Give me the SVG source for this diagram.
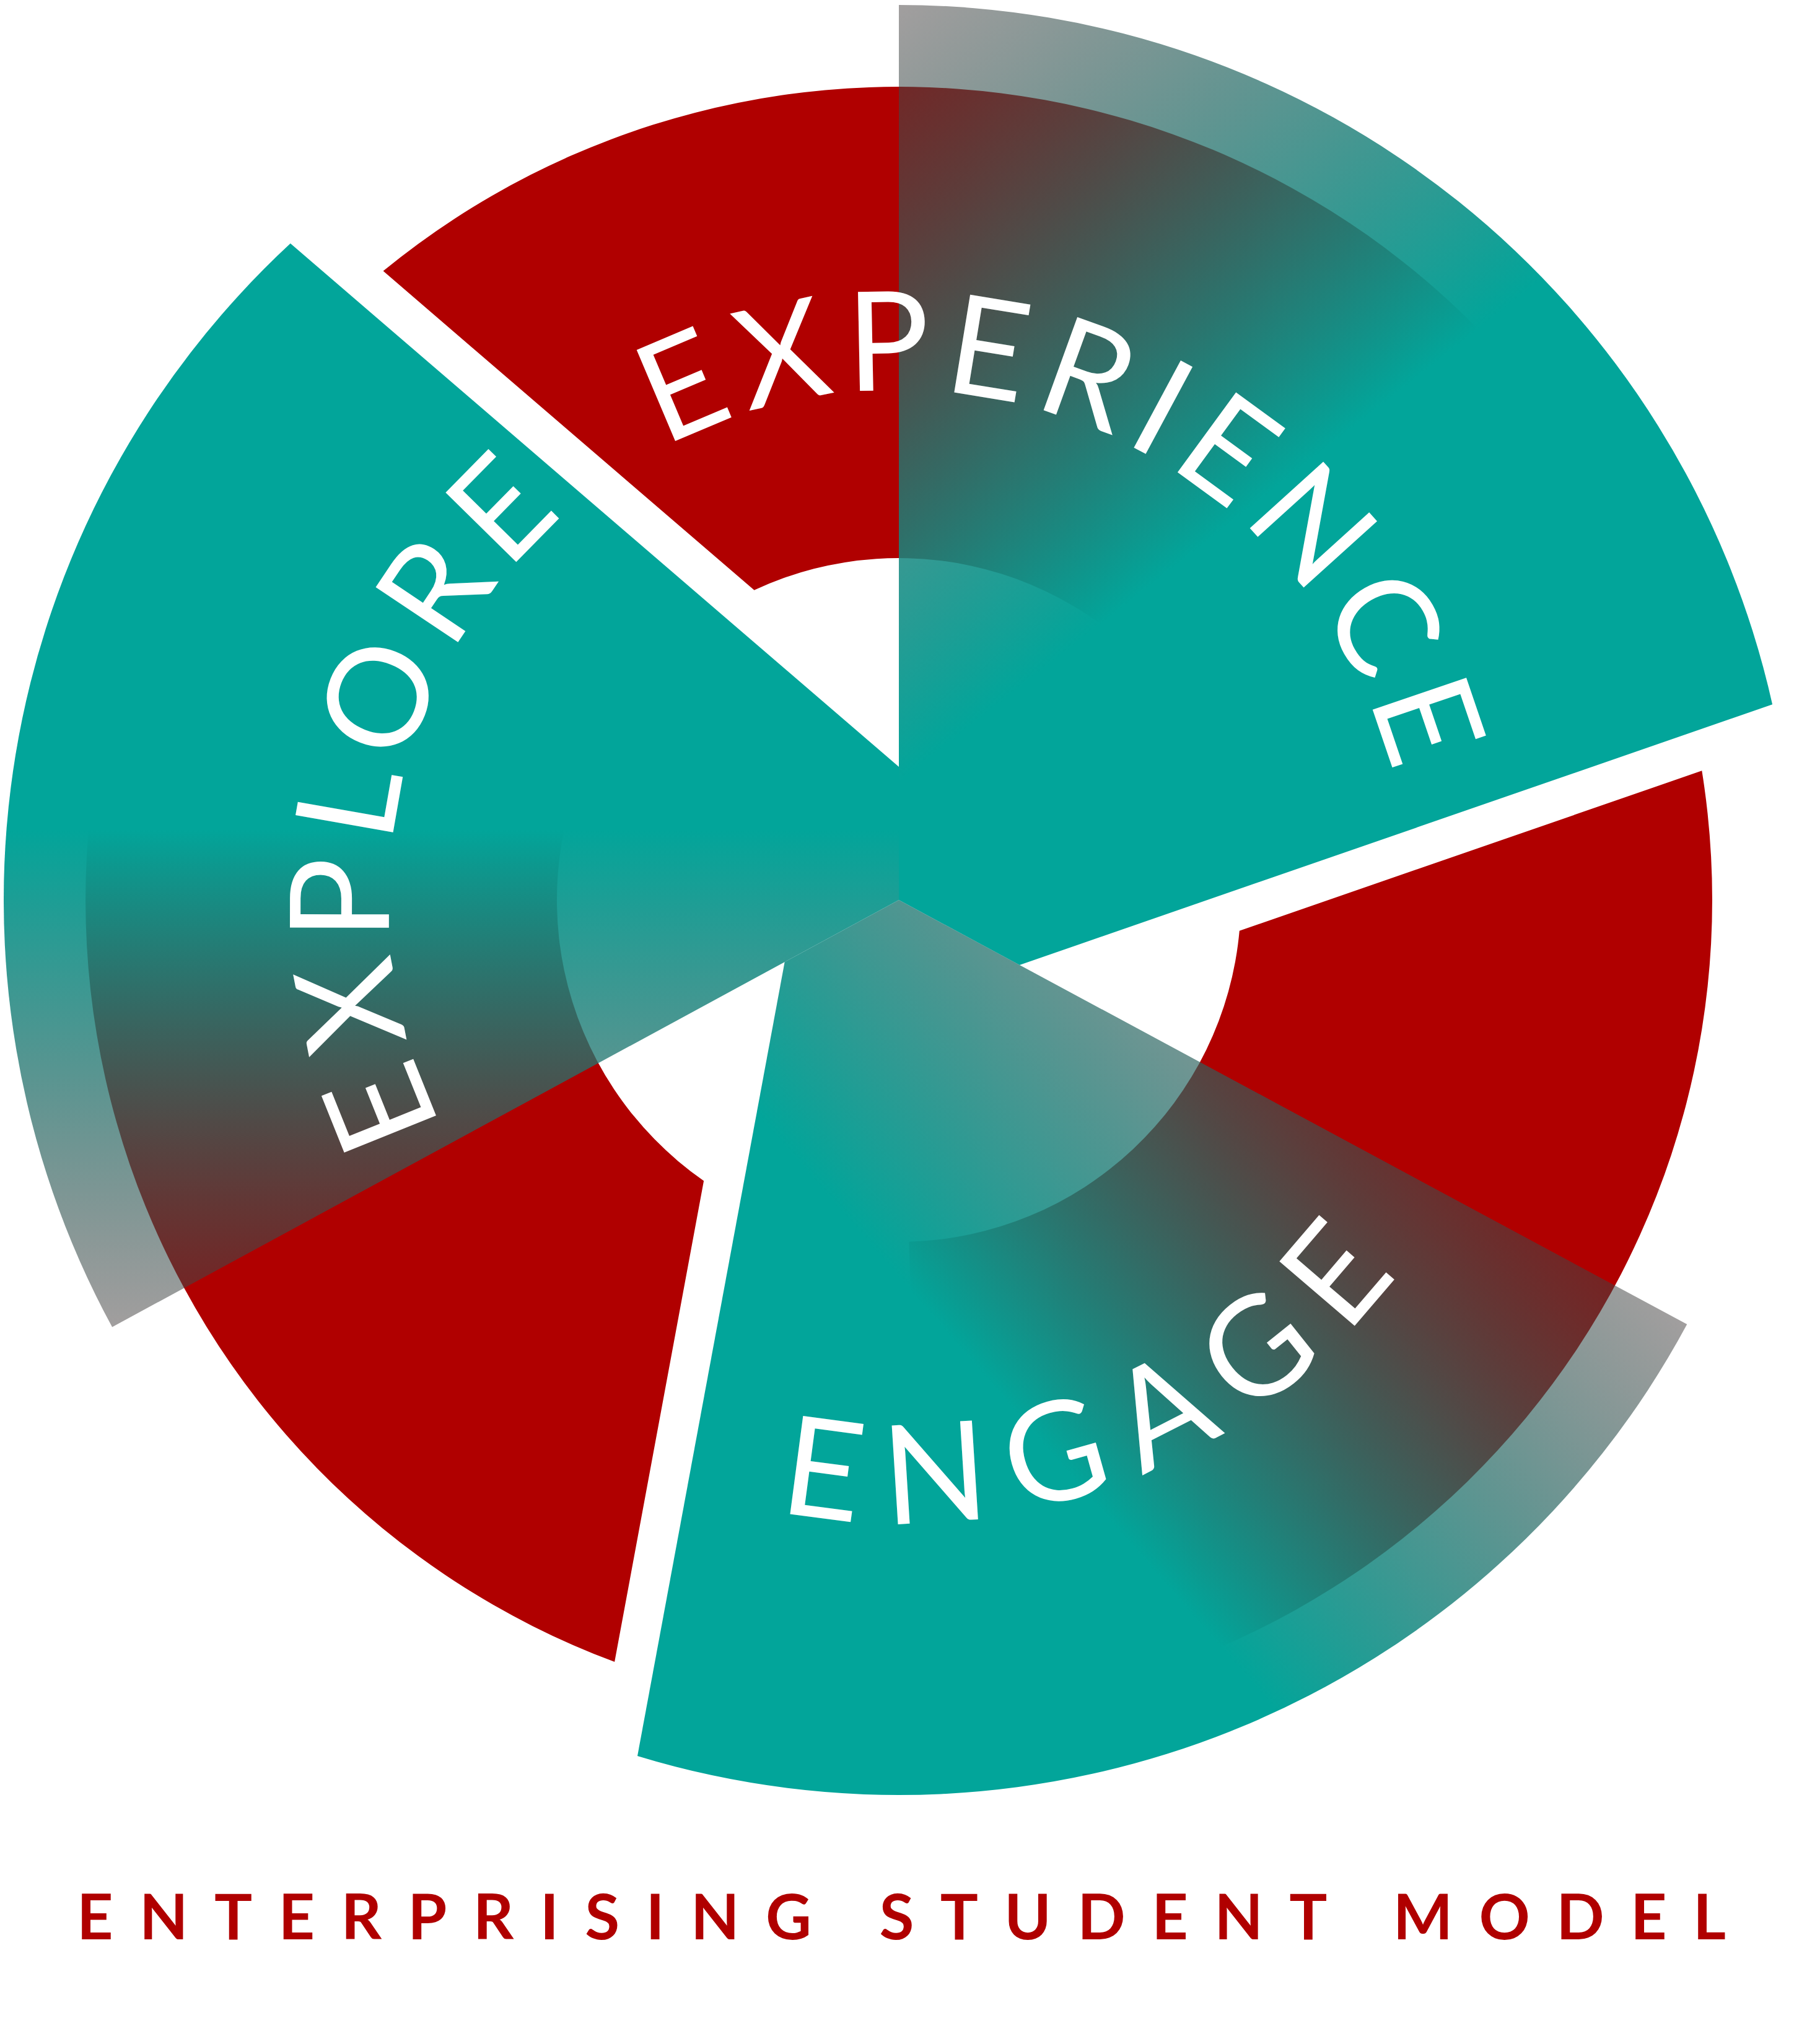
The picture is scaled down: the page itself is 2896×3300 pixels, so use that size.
<svg xmlns="http://www.w3.org/2000/svg" width="2896" height="3300" viewBox="0 0 2896 3300">
<defs>
<style>
.red{fill:#b00000}
.lbl{font-family:Lato,"Open Sans","Liberation Sans",sans-serif;font-size:223px;font-weight:400;fill:#ffffff}
.title{font-family:Lato,"Liberation Sans",sans-serif;font-size:102px;font-weight:700;fill:#b00000}
.arc{fill:none;stroke:none}
</style>
<linearGradient id="gExp" gradientUnits="userSpaceOnUse" x1="749.9" y1="555.7" x2="1358.6" y2="1334.8">
<stop offset="0" stop-color="rgb(68,62,62)" stop-opacity="0.5"/>
<stop offset="1" stop-color="#02a59a" stop-opacity="1"/>
</linearGradient>
<linearGradient id="gEng" gradientUnits="userSpaceOnUse" x1="1836.4" y1="1117.9" x2="1149.1" y2="1715.4">
<stop offset="0" stop-color="rgb(68,62,62)" stop-opacity="0.5"/>
<stop offset="1" stop-color="#02a59a" stop-opacity="1"/>
</linearGradient>
<linearGradient id="gExpl" gradientUnits="userSpaceOnUse" x1="0" y1="2143" x2="0" y2="1340">
<stop offset="0" stop-color="rgb(68,62,62)" stop-opacity="0.5"/>
<stop offset="1" stop-color="#02a59a" stop-opacity="1"/>
</linearGradient>
<path id="pExp" class="arc" d="M1072.3 722.3 A823 823 0 0 1 2270.9 1381.3"/>
<path id="pExpl" class="arc" d="M713.8 1818.9 A823 823 0 0 1 1039.5 740.3"/>
<path id="pEng" class="arc" d="M1255.6 2439.8 A1006 1006 0 0 0 2362.7 1878.2"/>
</defs>
<rect x="0" y="0" width="2896" height="3300" fill="#ffffff"/>
<g id="red-top"><path class="red" d="M618.6 437.6 A1313 1313 0 0 1 2588.1 796.5 L1929 1177 A552 552 0 0 0 1217.5 952.8 Z"/></g>
<g id="red-right"><path class="red" d="M2747.3 1244.3 A1313 1313 0 0 1 1490 2765.4 L1467.4 2004.8 A552 552 0 0 0 2000.8 1502.8 Z"/></g>
<g id="red-left"><path class="red" d="M992.1 2683.1 A1313 1313 0 0 1 331.5 767 L980.3 1164.6 A552 552 0 0 0 1136.1 1906.4 Z"/></g>
<g id="experience">
<path fill="url(#gExp)" d="M1451 1453 L1451 8 A1445 1445 0 0 1 2861.1 1137.2 L1645.9 1558 Z"/>
<text class="lbl"><textPath href="#pExp" textLength="1480" lengthAdjust="spacing">EXPERIENCE</textPath></text>
</g>
<g id="engage">
<path fill="url(#gEng)" d="M1451 1453 L2723.3 2138.1 A1445 1445 0 0 1 1029 2835 L1266.7 1553.1 Z"/>
<text class="lbl"><textPath href="#pEng" textLength="1129" lengthAdjust="spacing">ENGAGE</textPath></text>
</g>
<g id="explore">
<path fill="url(#gExpl)" d="M1451 1453 L181.1 2142.5 A1445 1445 0 0 1 468.8 393.1 L1451 1238 Z"/>
<text class="lbl"><textPath href="#pExpl" textLength="1083" lengthAdjust="spacing">EXPLORE</textPath></text>
</g>
<g id="connectors"></g>
<g id="title">
<text class="title" x="124" y="3131" textLength="2662" lengthAdjust="spacing">ENTERPRISING STUDENT MODEL</text>
</g>
</svg>
